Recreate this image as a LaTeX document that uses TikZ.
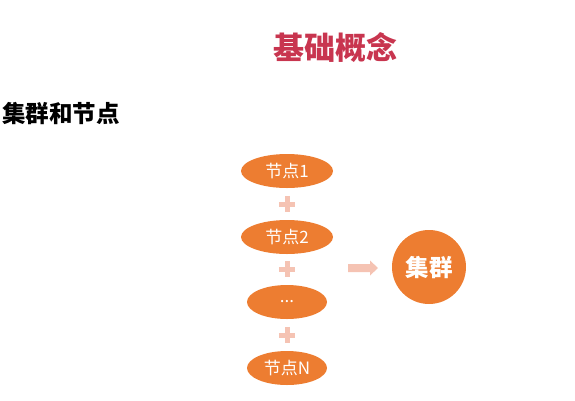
\documentclass[tikz,border=0pt]{standalone}
\usepackage{fontspec}
\newfontfamily\cjk{Noto Sans CJK SC}
\usetikzlibrary{shapes.geometric}
\definecolor{orangefill}{HTML}{ED7D31}
\definecolor{titlered}{HTML}{C8354F}
\definecolor{pinkplus}{HTML}{F5C3B3}
\begin{document}
\begin{tikzpicture}[x=1pt,y=-1pt,
  nodeell/.style={ellipse,fill=orangefill,draw=none,inner sep=0pt,minimum height=34pt,text=white,font=\cjk\fontsize{17}{17}\selectfont},
  plussign/.style={inner sep=0pt,minimum size=16pt},
  arrowfill/.style={fill=pinkplus,draw=none}]
\useasboundingbox (0,0) rectangle (575,400);
\node (title) at (335,48) {\cjk\bfseries\fontsize{31}{31}\selectfont\textcolor{titlered}{基础概念}};
\node[anchor=west,inner sep=0pt] (sub) at (2,113) {\cjk\bfseries\fontsize{23.5}{23.5}\selectfont 集群和节点};
\node[nodeell,minimum width=92pt] (n1) at (287,171) {节点1};
\node[nodeell,minimum width=92pt] (n2) at (287,237) {节点2};
\node[nodeell,minimum width=80pt] (n3) at (287,302) {...};
\node[nodeell,minimum width=80pt] (nN) at (287,368) {节点N};
\foreach \y/\nm in {204/p1,269/p2,335/p3}{
  \node[plussign] (\nm) at (287,\y) {};
  \draw[pinkplus,line width=5pt] (\nm.west) -- (\nm.east) (\nm.north) -- (\nm.south);
}
\node[circle,fill=orangefill,minimum size=74pt,inner sep=0pt,text=white,font=\cjk\bfseries\fontsize{23.5}{23.5}\selectfont] (cl) at (429,267) {集群};
\coordinate (arr) at (363,268);
\fill[arrowfill] ([shift={(-15,-4)}]arr) -- ([shift={(7,-4)}]arr) -- ([shift={(7,-7.5)}]arr) -- ([shift={(15,0)}]arr) -- ([shift={(7,7.5)}]arr) -- ([shift={(7,4)}]arr) -- ([shift={(-15,4)}]arr) -- cycle;
\end{tikzpicture}
\end{document}
